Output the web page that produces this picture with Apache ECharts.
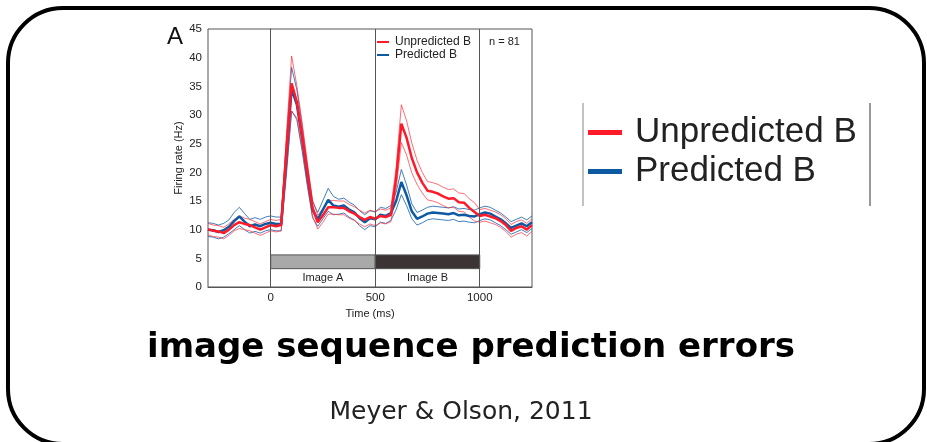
<!DOCTYPE html>
<html>
<head>
<meta charset="utf-8">
<script src="https://cdn.jsdelivr.net/npm/echarts@6/dist/echarts.min.js"></script>
<style>
html,body{margin:0;padding:0;background:#fff;}
#c{width:927px;height:442px;}
</style>
</head>
<body>
<div id="c"></div>
<script>
// ---- data ----
const timeMs = [-300,-275,-250,-225,-200,-175,-150,-125,-100,-75,-50,-25,0,25,50,75,100,125,150,175,200,225,250,275,300,325,350,375,400,425,450,475,500,525,550,575,600,625,650,675,700,725,750,775,800,825,850,875,900,925,950,975,1000,1025,1050,1075,1100,1125,1150,1175,1200,1225,1250];

const unpredMean = [10.1,9.8,9.7,9.4,10.0,10.8,11.3,11.0,10.8,10.4,10.0,10.4,10.8,10.6,10.8,23.5,35.5,32.3,26.5,20.0,13.8,11.3,12.5,13.9,13.9,13.8,13.8,13.2,12.8,12.2,11.7,12.2,11.9,12.4,12.2,12.6,19.0,28.5,26.0,22.5,20.0,18.2,16.8,16.6,16.3,15.8,15.4,15.5,14.8,14.7,13.8,13.1,12.4,12.6,12.3,12.0,11.5,10.8,9.8,10.3,10.6,10.0,10.8];
const unpredUpper = [11.1,10.8,10.7,10.4,11.0,11.8,12.4,12.0,11.8,11.4,11.0,11.4,11.8,11.6,11.8,26.5,40.3,35.1,28.8,21.8,15.2,12.5,13.7,15.1,15.1,15.0,15.0,14.4,14.0,13.4,12.9,13.4,13.1,13.6,13.4,13.8,20.8,31.8,29.0,25.1,22.1,20.0,18.4,18.2,17.9,17.4,17.0,17.1,16.4,16.3,15.4,14.7,13.5,13.7,13.4,13.1,12.6,11.9,10.9,11.4,11.7,11.1,11.9];
const unpredLower = [9.1,8.8,8.7,8.4,9.0,9.8,10.2,10.0,9.8,9.4,9.0,9.4,9.8,9.6,9.8,20.5,30.7,29.5,24.2,18.2,12.4,10.1,11.3,12.7,12.7,12.6,12.6,12.0,11.6,11.0,10.5,11.0,10.7,11.2,11.0,11.4,17.2,25.2,23.0,19.9,17.9,16.4,15.2,15.0,14.7,14.2,13.8,13.9,13.2,13.1,12.2,11.5,11.3,11.5,11.2,10.9,10.4,9.7,8.7,9.2,9.5,8.9,9.7];

const predMean = [10.0,9.9,9.6,9.9,10.5,11.5,12.3,11.4,10.6,10.9,10.6,11.0,11.2,11.0,11.0,22.5,34.5,31.8,26.0,19.5,13.5,11.8,13.5,15.2,14.2,14.0,14.2,13.5,13.0,12.0,11.3,12.0,11.8,12.6,12.4,12.9,15.0,18.3,16.0,13.2,11.9,12.3,12.8,13.0,12.9,12.8,12.7,12.9,12.5,12.6,12.4,12.3,12.7,13.0,12.8,12.3,11.8,11.1,10.3,10.7,11.1,10.6,11.3];
const predUpper = [11.2,11.1,10.8,11.1,11.7,13.0,13.9,12.8,11.8,12.1,11.8,12.2,12.4,12.2,12.2,25.5,38.3,34.4,28.2,21.3,14.9,13.0,15.1,17.2,15.8,15.3,15.5,14.8,14.3,13.3,12.6,13.3,13.1,13.9,13.7,14.2,16.5,20.5,17.8,14.5,13.0,13.4,13.9,14.1,14.0,13.9,13.8,14.0,13.6,13.7,13.5,13.4,13.8,14.1,13.9,13.4,12.9,12.2,11.4,11.8,12.2,11.7,12.4];
const predLower = [8.8,8.7,8.4,8.7,9.3,10.0,10.7,10.0,9.4,9.7,9.4,9.8,10.0,9.8,9.8,19.5,30.7,29.2,23.8,17.7,12.1,10.6,11.9,13.2,12.6,12.7,12.9,12.2,11.7,10.7,10.0,10.7,10.5,11.3,11.1,11.6,13.5,16.1,14.2,11.9,10.8,11.2,11.7,11.9,11.8,11.7,11.6,11.8,11.4,11.5,11.3,11.2,11.6,11.9,11.7,11.2,10.7,10.0,9.2,9.6,10.0,9.5,10.2];

const xTickValues = [0, 500, 1000];
const stimulusEdges = [0, 500, 1000];
const stimulusNames = ['Image A', 'Image B'];
const seriesNames = ['Unpredicted B', 'Predicted B'];

// ---- chart ----
const RED = '#ff1a2a';
const RED_SE = 'rgba(255,45,60,0.7)';
const BLUE = '#0d5aa3';
const BLUE_SE = 'rgba(20,95,170,0.8)';
const pairs = arr => timeMs.map((t, i) => [t, arr[i]]);
const FONT = '"Liberation Sans", Arial, sans-serif';

const chart = echarts.init(document.getElementById('c'), null, {renderer: 'canvas'});

function seLine(name, arr, color) {
  return {name, type: 'line', data: pairs(arr), showSymbol: false, symbol: 'none',
    lineStyle: {width: 1, color}, itemStyle: {color}, silent: true, z: 2};
}

const option = {
  backgroundColor: '#ffffff',
  animation: false,
  textStyle: {fontFamily: FONT},
  grid: {left: 208, top: 29, width: 324, height: 258, show: true, borderColor: '#555', borderWidth: 1, backgroundColor: 'transparent'},
  legend: [
    {data: seriesNames, orient: 'vertical', left: 377, top: 36, itemWidth: 12, itemHeight: 2, itemGap: 1,
      icon: 'rect', textStyle: {fontSize: 12, color: '#222', fontFamily: FONT, padding: [0, 0, 0, 1]}, selectedMode: false, padding: 0},
    {data: seriesNames, orient: 'vertical', left: 588, top: 115, itemWidth: 34, itemHeight: 5, itemGap: 4,
      icon: 'rect', textStyle: {fontSize: 35, color: '#222', fontFamily: FONT, padding: [0, 0, 0, 8]}, selectedMode: false, padding: 0}
  ],
  xAxis: {
    type: 'value', min: -300, max: 1250,
    name: 'Time (ms)', nameLocation: 'middle', nameGap: 21,
    nameTextStyle: {fontSize: 11, color: '#222'},
    axisLine: {show: true, lineStyle: {color: '#555', width: 1}},
    axisTick: {show: true, inside: true, length: 3, customValues: xTickValues, lineStyle: {color: '#555'}},
    axisLabel: {customValues: xTickValues, formatter: v => String(v), fontSize: 11.5, color: '#222', margin: 5},
    splitLine: {show: false}
  },
  yAxis: {
    type: 'value', min: 0, max: 45, interval: 5,
    name: 'Firing rate (Hz)', nameLocation: 'middle', nameGap: 24, nameRotate: 90,
    nameTextStyle: {fontSize: 11, color: '#222'},
    axisLine: {show: true, lineStyle: {color: '#555', width: 1}},
    axisTick: {show: false},
    axisLabel: {fontSize: 11.5, color: '#222', margin: 6},
    splitLine: {show: false}
  },
  series: [
    seLine('pUp', predUpper, BLUE_SE),
    seLine('pLo', predLower, BLUE_SE),
    seLine('uUp', unpredUpper, RED_SE),
    seLine('uLo', unpredLower, RED_SE),
    {name: seriesNames[1], type: 'line', data: pairs(predMean), showSymbol: false, symbol: 'none',
      lineStyle: {width: 2.5, color: BLUE}, itemStyle: {color: BLUE}, z: 3},
    {name: seriesNames[0], type: 'line', data: pairs(unpredMean), showSymbol: false, symbol: 'none',
      lineStyle: {width: 2.5, color: RED}, itemStyle: {color: RED}, z: 4,
      markLine: {silent: true, symbol: 'none', label: {show: false},
        lineStyle: {color: '#555', width: 1, type: 'solid'},
        data: stimulusEdges.map(x => ({xAxis: x}))},
      markArea: {silent: true,
        itemStyle: {borderColor: '#555', borderWidth: 1},
        label: {show: true, position: 'inside', fontSize: 11, color: '#222', fontFamily: FONT},
        data: [
          [{xAxis: stimulusEdges[0], yAxis: 3.2, itemStyle: {color: '#a9a9a9'}, label: {show: false}}, {xAxis: stimulusEdges[1], yAxis: 5.6}],
          [{xAxis: stimulusEdges[1], yAxis: 3.2, itemStyle: {color: '#3c3434'}, label: {show: false}}, {xAxis: stimulusEdges[2], yAxis: 5.6}],
          [{name: stimulusNames[0], xAxis: stimulusEdges[0], yAxis: 0, itemStyle: {color: 'rgba(0,0,0,0)', borderWidth: 0}}, {xAxis: stimulusEdges[1], yAxis: 3.2}],
          [{name: stimulusNames[1], xAxis: stimulusEdges[1], yAxis: 0, itemStyle: {color: 'rgba(0,0,0,0)', borderWidth: 0}}, {xAxis: stimulusEdges[2], yAxis: 3.2}]
        ]}
    }
  ],
  graphic: [
    {type: 'rect', shape: {x: 8, y: 8, width: 916, height: 436, r: 55}, style: {fill: 'none', stroke: '#000', lineWidth: 4}, z: 100},
    {type: 'text', left: 167, top: 25, style: {text: 'A', fontSize: 24, fill: '#111', fontFamily: FONT}},
    {type: 'text', left: 489, top: 36, style: {text: 'n = 81', fontSize: 11, fill: '#222', fontFamily: FONT}},
    {type: 'line', shape: {x1: 583, y1: 103, x2: 583, y2: 206}, style: {stroke: '#999', lineWidth: 1.2}},
    {type: 'line', shape: {x1: 870, y1: 103, x2: 870, y2: 206}, style: {stroke: '#777', lineWidth: 1.5}},
    {type: 'text', x: 471, y: 348, style: {text: 'image sequence prediction errors', fontSize: 34, fontWeight: 'bold', fill: '#000', fontFamily: '"DejaVu Sans", sans-serif', align: 'center', verticalAlign: 'middle'}},
    {type: 'text', x: 461, y: 412, style: {text: 'Meyer & Olson, 2011', fontSize: 25, fontWeight: 'normal', fill: '#222', fontFamily: '"DejaVu Sans", sans-serif', align: 'center', verticalAlign: 'middle'}}
  ]
};
chart.setOption(option);
</script>
</body>
</html>
